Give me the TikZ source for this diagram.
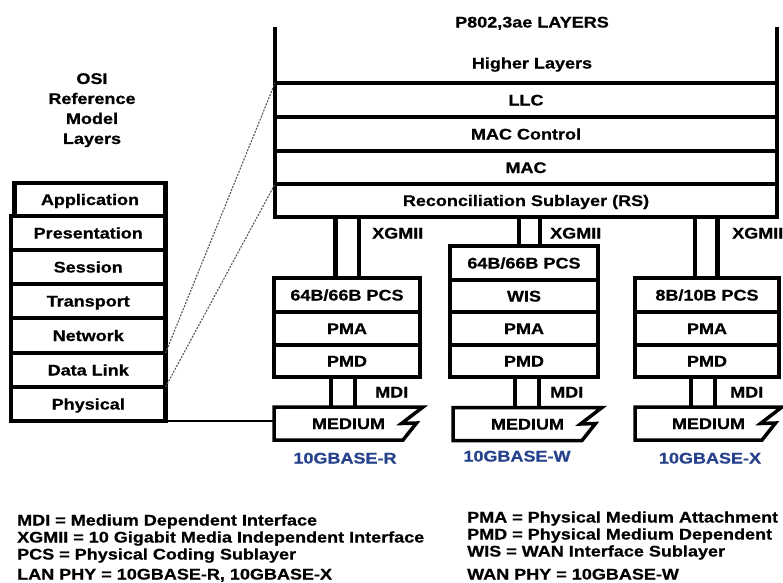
\documentclass[tikz,border=0pt]{standalone}
\usepackage{fontspec}
\newfontfamily\lab[FakeStretch=1.17,FakeBold=0.6]{Liberation Sans}
\usetikzlibrary{calc}
\definecolor{baseblue}{RGB}{38,66,140}
\definecolor{dashgray}{RGB}{85,85,85}
\newcommand\labfont{\lab\bfseries\fontsize{15.4pt}{18pt}\selectfont}
\begin{document}
\begin{tikzpicture}[x=1pt,y=-1pt,
  layer/.style={draw, line width=4.5pt, rectangle, inner sep=0pt, outer sep=0pt,
    font=\labfont, text height=11pt, text depth=0pt},
  pipe/.style={line width=4.5pt},
  medtxt/.style={rectangle, inner sep=0pt, outer sep=0pt, font=\labfont,
    text height=11pt, text depth=0pt, minimum height=33pt},
  medshape/.style={line width=3.5pt, line join=miter},
  lbl/.style={font=\labfont, inner sep=0pt, text height=11pt, text depth=0pt},
  leg/.style={font=\labfont, inner sep=0pt, anchor=base west},
  typ/.style={font=\labfont, inner sep=0pt, text height=11pt, text depth=0pt, text=baseblue},
  dashline/.style={draw=dashgray, line width=1.1pt, dash pattern=on 2pt off 1.3pt},
  thinline/.style={line width=1.5pt}]
\useasboundingbox[fill=white] (0,0) rectangle (783,582);

% ---- P802.3ae layers ----
\node[lbl] (title) at (532,22) {P802,3ae LAYERS};
\node[lbl] (higher) at (532,63) {Higher Layers};
\node[layer, minimum width=502pt, minimum height=34pt] (llc) at (526,100) {LLC};
\node[layer, minimum width=502pt, minimum height=34pt] (macc) at (526,134) {MAC Control};
\node[layer, minimum width=502pt, minimum height=33pt] (mac) at (526,167.5) {MAC};
\node[layer, minimum width=502pt, minimum height=33pt] (rs) at (526,200.5) {Reconciliation Sublayer (RS)};
\draw[pipe] (llc.north west) -- ++(0,-56);
\draw[pipe] (llc.north east) -- ++(0,-56);

% ---- OSI stack ----
\node[font=\lab\bfseries\fontsize{15.4pt}{20pt}\selectfont, align=center, inner sep=0pt, anchor=north] (osititle) at (92,73) {OSI\\Reference\\Model\\Layers};
\node[layer, minimum width=151pt, minimum height=33pt] (app) at (90,199.5) {Application};
\node[layer, minimum width=154.5pt, minimum height=34pt] (pres) at (88.25,233) {Presentation};
\node[layer, minimum width=154.5pt, minimum height=34pt] (sess) at (88.25,267) {Session};
\node[layer, minimum width=154.5pt, minimum height=34pt] (trans) at (88.25,301) {Transport};
\node[layer, minimum width=154.5pt, minimum height=35pt] (net) at (88.25,335.5) {Network};
\node[layer, minimum width=154.5pt, minimum height=34pt] (dl) at (88.25,370) {Data Link};
\node[layer, minimum width=154.5pt, minimum height=34pt] (phys) at (88.25,404) {Physical};

\draw[dashline] (net.south east) -- (llc.north west);
\draw[dashline] (dl.south east) -- (rs.north west);

% ---- Stack R ----
\node[layer, minimum width=146pt, minimum height=34pt] (pcsA) at (347,295) {64B/66B PCS};
\node[layer, minimum width=146pt, minimum height=33pt] (pmaA) at (347,328.5) {PMA};
\node[layer, minimum width=146pt, minimum height=32pt] (pmdA) at (347,361) {PMD};
\node[medtxt, minimum width=149pt] (medA) at (348.5,423.5) {MEDIUM};

% ---- Stack W ----
\node[layer, minimum width=148pt, minimum height=34pt] (pcsB) at (524,263) {64B/66B PCS};
\node[layer, minimum width=148pt, minimum height=32pt] (wisB) at (524,296) {WIS};
\node[layer, minimum width=148pt, minimum height=33pt] (pmaB) at (524,328.5) {PMA};
\node[layer, minimum width=148pt, minimum height=32pt] (pmdB) at (524,361) {PMD};
\node[medtxt, minimum width=149pt] (medB) at (527.5,424) {MEDIUM};

% ---- Stack X ----
\node[layer, minimum width=144pt, minimum height=34pt] (pcsC) at (707,295) {8B/10B PCS};
\node[layer, minimum width=144pt, minimum height=33pt] (pmaC) at (707,328.5) {PMA};
\node[layer, minimum width=144pt, minimum height=32pt] (pmdC) at (707,361) {PMD};
\node[medtxt, minimum width=147pt] (medC) at (708.5,423.5) {MEDIUM};

% medium shapes with broken (zigzag) right edge
\foreach \m in {medA,medB,medC}{
  \draw[medshape] (\m.north west) -- (\m.north east) -- ++(-21.5,16.5) -- ++(15,-0.5)
    -- ($(\m.south east)+(-20,0)$) -- (\m.south west) -- cycle;
}

% ---- XGMII connectors ----
\coordinate (xa1) at ($(pcsA.north)+(-11.5,0)$);
\coordinate (xa2) at ($(pcsA.north)+(12,0)$);
\coordinate (xb1) at ($(pcsB.north)+(-5,0)$);
\coordinate (xb2) at ($(pcsB.north)+(16,0)$);
\coordinate (xc1) at ($(pcsC.north)+(-12,0)$);
\coordinate (xc2) at ($(pcsC.north)+(10.7,0)$);
\foreach \c in {xa1,xa2,xb1,xb2,xc1,xc2}{
  \draw[pipe] (\c) -- (\c |- rs.south);
}
% ---- MDI connectors ----
\coordinate (ma1) at ($(pmdA.south)+(-16,0)$);
\coordinate (ma2) at ($(pmdA.south)+(8,0)$);
\coordinate (mb1) at ($(pmdB.south)+(-9,0)$);
\coordinate (mb2) at ($(pmdB.south)+(15,0)$);
\coordinate (mc1) at ($(pmdC.south)+(-16,0)$);
\coordinate (mc2) at ($(pmdC.south)+(8,0)$);
\draw[pipe] (ma1) -- (ma1 |- medA.north);
\draw[pipe] (ma2) -- (ma2 |- medA.north);
\draw[pipe] (mb1) -- (mb1 |- medB.north);
\draw[pipe] (mb2) -- (mb2 |- medB.north);
\draw[pipe] (mc1) -- (mc1 |- medC.north);
\draw[pipe] (mc2) -- (mc2 |- medC.north);

% labels on connectors
\node[lbl, anchor=west] (xgA) at (372,233) {XGMII};
\node[lbl, anchor=west] (xgB) at (550,233) {XGMII};
\node[lbl, anchor=west] (xgC) at (732,233) {XGMII};
\node[lbl, anchor=west] (mdA) at (375,392) {MDI};
\node[lbl, anchor=west] (mdB) at (550,392) {MDI};
\node[lbl, anchor=west] (mdC) at (730,392) {MDI};

% physical to medium line
\draw[thinline] (phys.south east) -- (phys.south east -| medA.west);

% PHY type labels
\node[typ] (typR) at (345,458) {10GBASE-R};
\node[typ] (typW) at (517,456) {10GBASE-W};
\node[typ] (typX) at (710,458) {10GBASE-X};

% ---- legend ----
\node[leg] (lg1) at (17,525.5) {MDI = Medium Dependent Interface};
\node[leg] (lg2) at (17,542.5) {XGMII = 10 Gigabit Media Independent Interface};
\node[leg] (lg3) at (17,559.5) {PCS = Physical Coding Sublayer};
\node[leg] (lg4) at (17,579.5) {LAN PHY = 10GBASE-R, 10GBASE-X};
\node[leg] (lg5) at (467,522.5) {PMA = Physical Medium Attachment};
\node[leg] (lg6) at (467,539.5) {PMD = Physical Medium Dependent};
\node[leg] (lg7) at (467,556.5) {WIS = WAN Interface Sublayer};
\node[leg] (lg8) at (467,579.5) {WAN PHY = 10GBASE-W};
\end{tikzpicture}
\end{document}
